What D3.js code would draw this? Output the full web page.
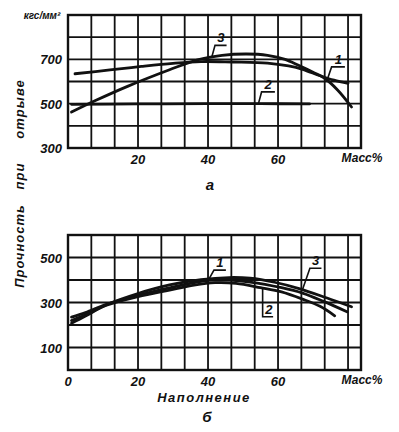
<!DOCTYPE html>
<html>
<head>
<meta charset="utf-8">
<script src="https://cdn.jsdelivr.net/npm/d3@7"></script>
<style>
  body { margin: 0; background: #fff; }
  text { font-family: "Liberation Sans", sans-serif; font-weight: bold; font-style: italic; fill: #111; }
</style>
</head>
<body>
<div id="chart"></div>
<script>
// ---- data ----
// chart a: strength on pull-off, kgf/mm2 vs mass %
var aCurve1 = [[2,635],[12,652],[21,668],[30,682],[38,690],[47,688],[57,683],[63,670],[67,655],[72,626],[76,606],[80,592]]
var aCurve2 = [[1,497],[20,499],[40,500],[55,500],[69,499]]
var aCurve3 = [[1,462],[8,515],[17,578],[29,653],[37,698],[44,718],[51,724],[57,718],[62,700],[66,672],[70,642],[73,618],[77,562],[81,485]]
var aTicksY = [300, 500, 700]
var aTicksX = [20, 40, 60]

// chart b: strength vs filling, mass %
var bCurve1 = [[1,235],[5,255],[11,292],[20,332],[29,365],[36,388],[41,399],[46,399],[52,391],[61,366],[67,342],[73,305],[79.7,259]]
var bCurve2 = [[1,220],[5,245],[11,288],[20,326],[29,355],[36,377],[42,388],[48,385],[55,366],[61,347],[67,315],[72,283],[76.2,241]]
var bCurve3 = [[1,208],[5,240],[11,290],[20,340],[29,378],[38,402],[46,411],[52,408],[59,390],[66,362],[74,320],[81,281]]
var bTicksY = [100, 300, 500]
var bTicksX = [0, 20, 40, 60]

// callouts: curve point, underline level, underline span (data units)
var aNotes = [
  {t:"3", cx:41.1, cy:712, uy:763, u0:42, u1:45.3},
  {t:"2", cx:54.4, cy:500, uy:553, u0:55.3, u1:59.1},
  {t:"1", cx:74.2, cy:615, uy:666, u0:75.3, u1:79.1}
]
var bNotes = [
  {t:"1", cx:40.1, cy:399, uy:444, u0:41.7, u1:45.1},
  {t:"3", cx:67, cy:358, uy:452, u0:69.1, u1:72.4}
]
var bNote2 = {t:"2", cx:55.6, cy:362, uy:237, u1:58.6}

var W = 399, H = 432
var svg = d3.select('#chart').append('svg')
  .attr('width', W).attr('height', H)

svg.append('rect').attr('width', W).attr('height', H).attr('fill', '#fff')

var x = d3.scaleLinear().domain([0, 83.7]).range([68, 361])
var gridX = d3.range(0, 13).map(function(i){ return i*20/3 })

function panel(yDom, yRange, yTicks, xTicks, curves) {
  var y = d3.scaleLinear().domain(yDom).range(yRange)
  var g = svg.append('g')
  // grid
  g.selectAll('.gx').data(gridX).enter().append('line')
    .attr('x1', function(d){ return x(d) }).attr('x2', function(d){ return x(d) })
    .attr('y1', y(yDom[0])).attr('y2', y(yDom[1]))
    .attr('stroke', '#111').attr('stroke-width', 1.8)
  g.selectAll('.gy').data(d3.range(yDom[0], yDom[1]+1, 100)).enter().append('line')
    .attr('x1', x(0)).attr('x2', x.range()[1])
    .attr('y1', function(d){ return y(d) }).attr('y2', function(d){ return y(d) })
    .attr('stroke', '#111').attr('stroke-width', 1.8)
  g.append('rect')
    .attr('x', x(0)).attr('y', y(yDom[1]))
    .attr('width', x.range()[1]-x(0)).attr('height', y(yDom[0])-y(yDom[1]))
    .attr('fill', 'none').attr('stroke', '#111').attr('stroke-width', 2.4)
  // tick labels
  g.selectAll('.ty').data(yTicks).enter().append('text')
    .attr('x', 62).attr('y', function(d){ return y(d)+5 })
    .attr('text-anchor', 'end').attr('font-size', 13)
    .text(function(d){ return d })
  g.selectAll('.tx').data(xTicks).enter().append('text')
    .attr('x', function(d){ return x(d) }).attr('y', y(yDom[0])+16)
    .attr('text-anchor', 'middle').attr('font-size', 13)
    .text(function(d){ return d })
  g.append('text').attr('x', 362).attr('y', y(yDom[0])+14)
    .attr('text-anchor', 'middle').attr('font-size', 12)
    .text('Масс%')
  // curves
  var line = d3.line().x(function(d){ return x(d[0]) }).y(function(d){ return y(d[1]) })
    .curve(d3.curveCatmullRom.alpha(0.5))
  curves.forEach(function(c){
    g.append('path').attr('d', line(c))
      .attr('fill', 'none').attr('stroke', '#111').attr('stroke-width', 2.8)
      .attr('stroke-linecap', 'round')
  })
  return {g: g, y: y}
}

function callouts(p, notes) {
  notes.forEach(function(n){
    p.g.append('path')
      .attr('d', 'M' + x(n.cx) + ',' + p.y(n.cy) + 'L' + x(n.u0) + ',' + p.y(n.uy) + 'L' + x(n.u1) + ',' + p.y(n.uy))
      .attr('fill', 'none').attr('stroke', '#111').attr('stroke-width', 1.6)
    p.g.append('text').attr('x', (x(n.u0)+x(n.u1))/2).attr('y', p.y(n.uy)-3)
      .attr('text-anchor', 'middle').attr('font-size', 13).text(n.t)
  })
}

var pa = panel([300, 900], [148, 15], aTicksY, aTicksX, [aCurve1, aCurve2, aCurve3])
callouts(pa, aNotes)

var pb = panel([0, 600], [370, 235], bTicksY, bTicksX, [bCurve1, bCurve2, bCurve3])
callouts(pb, bNotes)
pb.g.append('path')
  .attr('d', 'M' + x(bNote2.cx) + ',' + pb.y(bNote2.cy) + 'L' + x(bNote2.cx) + ',' + pb.y(bNote2.uy) + 'L' + x(bNote2.u1) + ',' + pb.y(bNote2.uy))
  .attr('fill', 'none').attr('stroke', '#111').attr('stroke-width', 1.6)
pb.g.append('text').attr('x', (x(bNote2.cx)+x(bNote2.u1))/2+1).attr('y', pb.y(bNote2.uy)-3)
  .attr('text-anchor', 'middle').attr('font-size', 13).text(bNote2.t)

// titles
svg.append('text').attr('x', 42).attr('y', 19).attr('text-anchor', 'middle')
  .attr('font-size', 10).text('кгс/мм²')
svg.append('text').attr('x', 210).attr('y', 190).attr('text-anchor', 'middle')
  .attr('font-size', 15).text('а')
svg.append('text').attr('x', 204).attr('y', 402).attr('text-anchor', 'middle')
  .attr('font-size', 13).attr('letter-spacing', 1.5).text('Наполнение')
svg.append('text').attr('x', 207).attr('y', 422).attr('text-anchor', 'middle')
  .attr('font-size', 15).text('б')

var yTitle = [['Прочность', 246], ['при', 176], ['отрыве', 109]]
yTitle.forEach(function(t){
  svg.append('text')
    .attr('transform', 'translate(24,' + t[1] + ') rotate(-90)')
    .attr('text-anchor', 'middle').attr('font-size', 13).attr('letter-spacing', 1)
    .text(t[0])
})
</script>
</body>
</html>
